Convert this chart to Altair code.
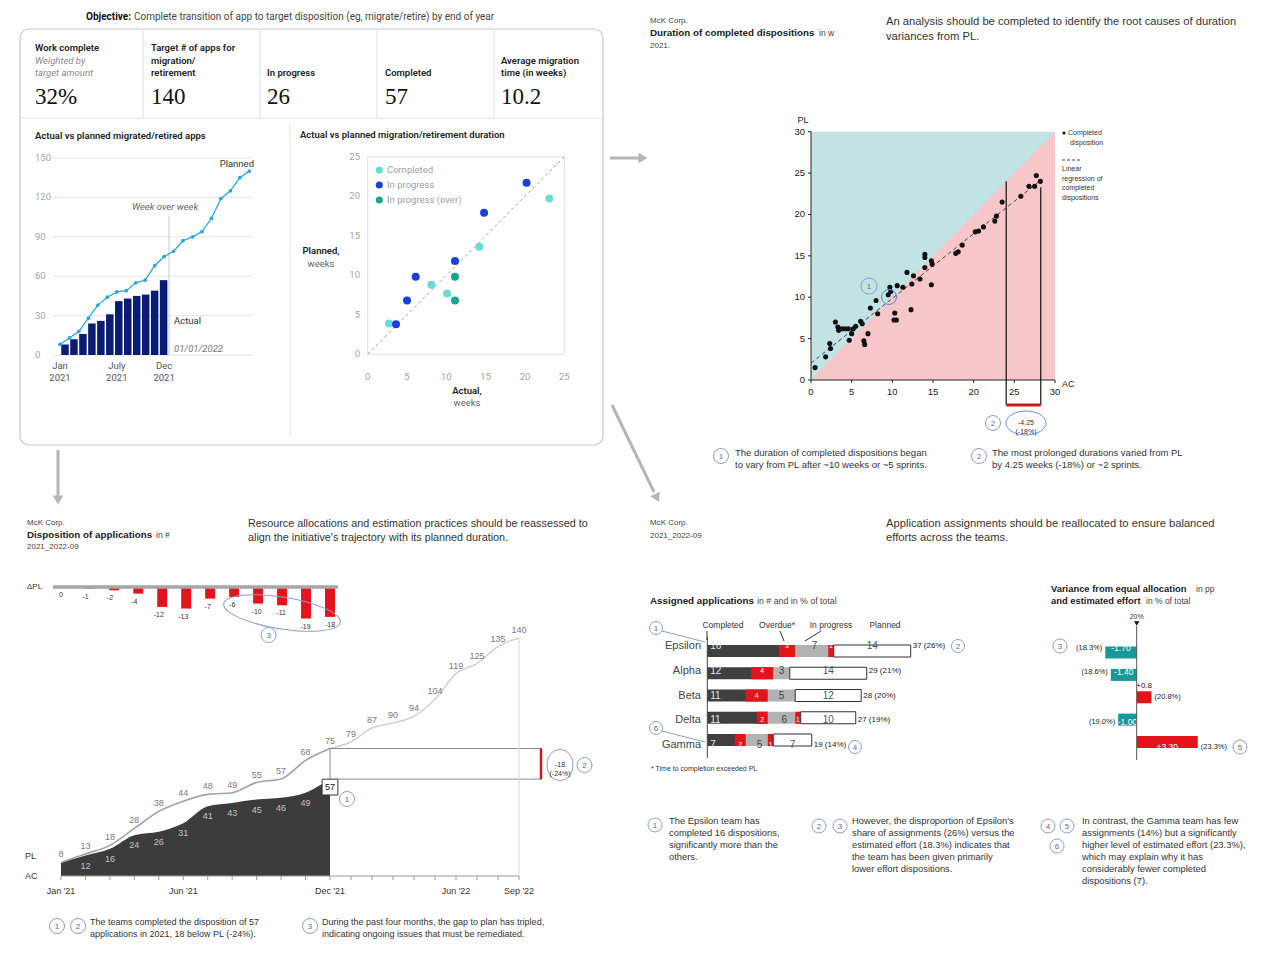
import math
import altair as alt
import pandas as pd

# ======================= DATA =======================
kpi_titles = [["Work complete"], ["Target # of apps for", "migration/", "retirement"],
              ["In progress"], ["Completed"], ["Average migration", "time (in weeks)"]]
kpi_subtitles = [["Weighted by", "target amount"], [], [], [], []]
kpi_values = ["32%", "140", "26", "57", "10.2"]

# cumulative dispositions, Jan '21 .. Sep '22
pl_cum = [8, 13, 18, 28, 38, 44, 48, 49, 55, 57, 68, 75, 79, 87, 90, 94, 104, 119, 125, 135, 140]
ac_cum = [8, 12, 16, 24, 26, 31, 41, 43, 45, 46, 49, 57]
period_idx = [0, 5, 11, 17, 20]
period_labels = ["Jan '21", "Jun '21", "Dec '21", "Jun '22", "Sep '22"]
mini_idx = [0, 6, 11]
mini_month = ["Jan", "July", "Dec"]
mini_year = ["2021", "2021", "2021"]
mini_ticks = [0, 30, 60, 90, 120, 150]

# planned vs actual migration duration (weeks)
dur_completed_ac = [2.7, 8.1, 10.1, 14.2, 23.1]
dur_completed_pl = [3.9, 8.8, 7.7, 13.6, 19.7]
dur_inprog_ac = [3.6, 5.0, 6.1, 11.1, 14.8, 20.2]
dur_inprog_pl = [3.8, 6.8, 9.8, 11.8, 17.9, 21.7]
dur_over_ac = [11.1, 11.1]
dur_over_pl = [9.8, 6.8]
dur_ticks = [0, 5, 10, 15, 20, 25]

# completed dispositions duration (weeks)
comp_ac = [0.5, 1.8, 2.3, 2.4, 3.0, 3.3, 3.4, 3.8, 4.2, 4.6, 5.2, 5.5, 4.7, 5.0, 6.1, 6.3, 6.5, 6.6, 7.0, 7.3,
           8.0, 8.2, 9.5, 9.7, 9.8, 10.3, 10.2, 10.5, 10.6, 11.3, 11.8, 12.3, 12.4, 12.6, 13.4, 14.0, 14.0, 14.0,
           14.8, 14.9, 14.8, 17.8, 18.1, 18.6, 20.2, 20.6, 21.2, 22.6, 22.8, 23.5, 25.8, 26.8, 27.5, 27.7, 28.2]
comp_pl = [1.5, 2.8, 4.4, 3.8, 7.0, 6.4, 6.0, 6.2, 6.2, 6.2, 6.2, 6.5, 4.8, 5.6, 7.1, 6.8, 4.75, 4.3, 5.6, 8.7,
           9.6, 8.0, 10.3, 11.2, 10.7, 8.1, 7.25, 7.25, 11.4, 11.2, 13.0, 8.5, 11.6, 12.6, 12.2, 13.6, 15.2, 14.8,
           14.4, 14.0, 11.5, 15.3, 15.5, 16.3, 17.9, 18.0, 18.5, 19.2, 19.8, 21.5, 22.2, 23.4, 23.4, 24.7, 24.0]
comp_ticks = [0, 5, 10, 15, 20, 25, 30]

# team assignments
teams = ["Epsilon", "Alpha", "Beta", "Delta", "Gamma"]
completed = [16, 12, 11, 11, 7]
overdue_completed = [3, 4, 4, 2, 2]
in_progress = [7, 3, 5, 6, 5]
overdue_in_progress = [1, 0, 0, 1, 1]
planned = [14, 14, 12, 10, 7]
share_pct = [26, 21, 20, 19, 14]
variance_pp = [-1.70, -1.40, 0.8, -1.00, 3.30]
variance_lab = ["-1.70", "-1.40", "+0.8", "-1.00", "+3.30"]
effort_pct = [18.3, 18.6, 20.8, 19.0, 23.3]

# ======================= STYLE =======================
LIB = "Liberation Sans, Arial, Helvetica, sans-serif"
CARD = "Roboto, Inter, Liberation Sans, sans-serif"
SERIF = "Liberation Serif, DejaVu Serif, Georgia, serif"
NAVY = "#0b1c74"
LBLUE = "#2ea6de"
C_COMP = "#63ddd6"
C_PROG = "#1b3fdc"
C_OVER = "#1aa38e"
CYAN_BG = "#c1e3e4"
PINK_BG = "#f7c6c8"
RED = "#e3151b"
TEAL = "#19979a"
CIRC = "#8d9ec6"
ARROW = "#b5b5b5"
HEAD = 11.2      # headline size
BOLD_H = 9.8     # bold chart-title size


def X(v):
    return v - 8


def Y(v):
    return v - 8


def xs(d0, d1, p0, p1):
    return alt.Scale(domain=[d0, d1], range=[X(p0), X(p1)], nice=False, zero=False)


def ys(d0, d1, p0, p1):
    return alt.Scale(domain=[d0, d1], range=[Y(p0), Y(p1)], nice=False, zero=False)


def XD(v, sc):
    return alt.XDatum(v, scale=sc, axis=None)


def YD(v, sc):
    return alt.YDatum(v, scale=sc, axis=None)


def QX(f, sc):
    return alt.X(f, type="quantitative", scale=sc, axis=None)


def QY(f, sc):
    return alt.Y(f, type="quantitative", scale=sc, axis=None)


layers = []
ONE = pd.DataFrame({"a": [0]})


def T(x, y, s, size=9, color="#333", weight="normal", align="left", font=LIB, italic=False, baseline="middle"):
    kw = dict(align=align, baseline=baseline, fontSize=size, color=color, fontWeight=weight, font=font,
              lineBreak="\n")
    if italic:
        kw["fontStyle"] = "italic"
    layers.append(alt.Chart(pd.DataFrame({"t": [s]})).mark_text(**kw).encode(
        x=alt.value(X(x)), y=alt.value(Y(y)), text="t:N"))


def R(x1, y1, x2, y2, color="#bbb", w=1, dash=None):
    kw = dict(color=color, strokeWidth=w)
    if dash:
        kw["strokeDash"] = dash
    layers.append(alt.Chart(ONE).mark_rule(**kw).encode(
        x=alt.value(X(x1)), y=alt.value(Y(y1)), x2=alt.value(X(x2)), y2=alt.value(Y(y2))))


def SYM(x, y, shape, size, color, filled=False, angle=0, sw=1):
    kw = dict(shape=shape, size=size, filled=filled, color=color, opacity=1, strokeWidth=sw)
    if angle:
        kw["angle"] = angle
    layers.append(alt.Chart(ONE).mark_point(**kw).encode(x=alt.value(X(x)), y=alt.value(Y(y))))


def NUM(x, y, label, d=14, size=8):
    SYM(x, y, "circle", d * d, CIRC)
    T(x, y + 0.5, label, size=size, color="#5d6d8e", align="center")


def ELL(x, y, w, h, angle=0, color=CIRC, sw=1):
    r = h / w
    path = f"M -1 0 A 1 {r:.3f} 0 1 0 1 0 A 1 {r:.3f} 0 1 0 -1 0 Z"
    SYM(x, y, path, w * w, color, angle=angle, sw=sw)


# ======================= ARROWS =======================
R(610, 158, 639, 158, ARROW, 3)
SYM(643, 158, "triangle-right", 110, ARROW, filled=True)
R(58, 450, 58, 496, ARROW, 3)
SYM(58, 500, "triangle-down", 110, ARROW, filled=True)
R(612, 405, 654, 492, ARROW, 3)
ang = math.degrees(math.atan2(92, 44))
SYM(657, 498, "triangle-right", 110, ARROW, filled=True, angle=ang)

# ======================= TOP-LEFT CARD =======================
T(131, 17, "Objective:", size=10, color="#111", weight="bold", align="right", font=CARD)
T(134, 17, "Complete transition of app to target disposition (eg, migrate/retire) by end of year",
  size=10, color="#444", font=CARD)
layers.append(alt.Chart(ONE).mark_rect(fill="white", stroke="#c8c8c8", strokeWidth=1.2, cornerRadius=9).encode(
    x=alt.value(X(20)), x2=alt.value(X(603)), y=alt.value(Y(29)), y2=alt.value(Y(445))))
for xv in [143, 260, 377, 494]:
    R(xv, 29, xv, 118, "#e2e2e2")
R(20, 118, 603, 118, "#e2e2e2")
R(290, 125, 290, 437, "#e2e2e2")

kx = [35, 151, 267, 385, 501]
for i in range(5):
    lines = kpi_titles[i] + kpi_subtitles[i]
    n = len(lines)
    for j, line in enumerate(lines):
        yy = 73 - 12.5 * (n - 1 - j)
        if j < len(kpi_titles[i]):
            T(kx[i], yy, line, size=9.5, color="#222", weight=600, font=CARD)
        else:
            T(kx[i], yy, line, size=9.5, color="#8a8a8a", italic=True, font=CARD)
    T(kx[i], 97, kpi_values[i], size=23, color="#111", font=SERIF)

# ---- left mini chart: actual vs planned migrated/retired apps
T(35, 136, "Actual vs planned migrated/retired apps", size=9.5, color="#222", weight=600, font=CARD)
tlx = xs(0, 20, 60, 249.3)
tly = ys(0, 150, 355, 158)
gdf = pd.DataFrame({"v": mini_ticks, "lab": [str(v) for v in mini_ticks]})
layers.append(alt.Chart(gdf).mark_rule(color="#e6e6e6", strokeWidth=1).encode(
    y=QY("v", tly), x=alt.value(X(53)), x2=alt.value(X(253))))
layers.append(alt.Chart(gdf).mark_text(align="left", baseline="middle", fontSize=9.5, color="#a3a3a3", font=CARD).encode(
    y=QY("v", tly), x=alt.value(X(35)), text="lab:N"))
df_ac = pd.DataFrame({"i": list(range(len(ac_cum))), "v": ac_cum})
df_pl = pd.DataFrame({"i": list(range(len(pl_cum))), "v": pl_cum})
layers.append(alt.Chart(df_ac).mark_bar(size=7.5, color=NAVY).encode(
    x=QX("i", tlx), y=QY("v", tly), y2=alt.datum(0)))
R(169, 216, 169, 355, "#c8c8c8")
layers.append(alt.Chart(df_pl).mark_line(color=LBLUE, strokeWidth=1.3).encode(x=QX("i", tlx), y=QY("v", tly)))
layers.append(alt.Chart(df_pl).mark_circle(color=LBLUE, size=14, opacity=1).encode(x=QX("i", tlx), y=QY("v", tly)))
mdf = pd.DataFrame({"i": mini_idx, "m": mini_month, "y": mini_year})
layers.append(alt.Chart(mdf).mark_text(align="center", fontSize=9.5, color="#555", font=CARD).encode(
    x=QX("i", tlx), y=alt.value(Y(366)), text="m:N"))
layers.append(alt.Chart(mdf).mark_text(align="center", fontSize=9.5, color="#555", font=CARD).encode(
    x=QX("i", tlx), y=alt.value(Y(378)), text="y:N"))
T(254, 164, "Planned", size=9.5, color="#333", align="right", font=CARD)
T(165, 207, "Week over week", size=9.5, color="#666", align="center", italic=True, font=CARD)
T(174, 321, "Actual", size=9.5, color="#333", font=CARD)
T(174, 349, "01/01/2022", size=9.5, color="#777", italic=True, font=CARD)

# ---- right mini chart: duration scatter
T(300, 135, "Actual vs planned migration/retirement duration", size=9.5, color="#222", weight=600, font=CARD)
sx = xs(0, 25, 367.7, 564.3)
sy = ys(0, 25, 354.3, 156.7)
layers.append(alt.Chart(ONE).mark_rect(fill="white", stroke="#e0e0e0", strokeWidth=1).encode(
    x=XD(0, sx), x2=alt.datum(25), y=YD(0, sy), y2=alt.datum(25)))
diag = pd.DataFrame({"x": [0, 25], "y": [0, 25]})
layers.append(alt.Chart(diag).mark_line(color="#a0a0a0", strokeDash=[3, 3], strokeWidth=1).encode(
    x=QX("x", sx), y=QY("y", sy)))
for acs, pls, col in [(dur_completed_ac, dur_completed_pl, C_COMP), (dur_inprog_ac, dur_inprog_pl, C_PROG),
                      (dur_over_ac, dur_over_pl, C_OVER)]:
    d = pd.DataFrame({"a": acs, "p": pls})
    layers.append(alt.Chart(d).mark_circle(color=col, size=64, opacity=1).encode(x=QX("a", sx), y=QY("p", sy)))
tdf = pd.DataFrame({"v": dur_ticks, "lab": [str(v) for v in dur_ticks]})
layers.append(alt.Chart(tdf).mark_text(align="right", fontSize=9.5, color="#a3a3a3", font=CARD).encode(
    y=QY("v", sy), x=alt.value(X(360)), text="lab:N"))
layers.append(alt.Chart(tdf).mark_text(align="center", fontSize=9.5, color="#a3a3a3", font=CARD).encode(
    x=QX("v", sx), y=alt.value(Y(377)), text="lab:N"))
for yy, lab, col in [(170, "Completed", C_COMP), (185, "In progress", C_PROG), (200, "In progress (over)", C_OVER)]:
    SYM(379.3, yy, "circle", 50, col, filled=True)
    T(387, yy, lab, size=9.5, color="#a0a0a0", font=CARD)
T(321, 251, "Planned,", size=9.5, color="#222", weight=600, align="center", font=CARD)
T(321, 264, "weeks", size=9.5, color="#666", align="center", font=CARD)
T(467, 391, "Actual,", size=9.5, color="#222", weight=600, align="center", font=CARD)
T(467, 403, "weeks", size=9.5, color="#666", align="center", font=CARD)

# ======================= TOP-RIGHT =======================
T(650, 21, "McK Corp.", size=8, color="#444")
T(650, 33, "Duration of completed dispositions", size=BOLD_H, color="#222", weight="bold")
T(819, 33, "in w", size=8.5, color="#444")
T(650, 46, "2021.", size=8, color="#444")
T(886, 22, "An analysis should be completed to identify the root causes of duration", size=HEAD, color="#333")
T(886, 37, "variances from PL.", size=HEAD, color="#333")

trx = xs(0, 30, 811, 1055)
tr_y = ys(0, 30, 380, 131.7)
layers.append(alt.Chart(ONE).mark_rect(color=CYAN_BG).encode(
    x=XD(0, trx), x2=alt.datum(30), y=YD(0, tr_y), y2=alt.datum(30)))
tri = pd.DataFrame({"x": [0, 30], "y": [0, 30]})
layers.append(alt.Chart(tri).mark_area(color=PINK_BG, opacity=1).encode(x=QX("x", trx), y=QY("y", tr_y), y2=alt.datum(0)))
cdf = pd.DataFrame({"ac": comp_ac, "pl": comp_pl})
layers.append(alt.Chart(cdf).transform_regression("ac", "pl", extent=[0, 28.3]).mark_line(
    color="#444", strokeDash=[4, 3], strokeWidth=1).encode(x=QX("ac", trx), y=QY("pl", tr_y)))
layers.append(alt.Chart(cdf).mark_circle(color="#111", size=26, opacity=1).encode(x=QX("ac", trx), y=QY("pl", tr_y)))
# axes
layers.append(alt.Chart(ONE).mark_rule(color="#222", strokeWidth=1).encode(
    x=XD(0, trx), y=YD(0, tr_y), y2=alt.datum(30)))
layers.append(alt.Chart(ONE).mark_rule(color="#222", strokeWidth=1).encode(
    y=YD(0, tr_y), x=XD(0, trx), x2=alt.datum(30)))
ctd = pd.DataFrame({"v": comp_ticks, "lab": [str(v) for v in comp_ticks]})
layers.append(alt.Chart(ctd).mark_rule(color="#222", strokeWidth=1).encode(
    y=QY("v", tr_y), x=alt.value(X(808)), x2=alt.value(X(811))))
layers.append(alt.Chart(ctd).mark_rule(color="#222", strokeWidth=1).encode(
    x=QX("v", trx), y=alt.value(Y(380)), y2=alt.value(Y(383))))
layers.append(alt.Chart(ctd).mark_text(align="right", fontSize=9.5, color="#222").encode(
    y=QY("v", tr_y), x=alt.value(X(805)), text="lab:N"))
layers.append(alt.Chart(ctd).mark_text(align="center", fontSize=9.5, color="#222").encode(
    x=QX("v", trx), y=alt.value(Y(392)), text="lab:N"))
T(803, 120, "PL", size=9, color="#222", align="center")
T(1062, 384, "AC", size=9, color="#222")
# variance marker lines
layers.append(alt.Chart(ONE).mark_rule(color="#111", strokeWidth=1.2).encode(
    x=XD(24, trx), y=YD(24, tr_y), y2=alt.value(Y(405))))
layers.append(alt.Chart(ONE).mark_rule(color="#111", strokeWidth=1.2).encode(
    x=XD(28.25, trx), y=YD(23.3, tr_y), y2=alt.value(Y(405))))
layers.append(alt.Chart(ONE).mark_rule(color="#d0161b", strokeWidth=3).encode(
    x=XD(24, trx), x2=alt.datum(28.25), y=alt.value(Y(405))))
ELL(1026, 423, 40, 24, color="#6f8fcf")
T(1026, 423, "-4.25\n(-18%)", size=7, color="#333", align="center")
NUM(993, 423, "2", d=15)
NUM(869, 286, "1", d=16)
SYM(889, 297, "circle", 15 * 15, "#5b86d6")
# legend
SYM(1064, 133, "circle", 10, "#111", filled=True)
T(1068, 133, "Completed", size=7, color="#333")
T(1070, 143, "disposition", size=7, color="#333")
R(1062, 160, 1081, 160, "#444", 1, [3, 2])
for k, s in enumerate(["Linear", "regression of", "completed", "dispositions"]):
    T(1062, 169 + 9.7 * k, s, size=7, color="#333")
# notes
NUM(721, 456, "1", d=15)
T(735, 453, "The duration of completed dispositions began", size=9.5, color="#333")
T(735, 465, "to vary from PL after ~10 weeks or ~5 sprints.", size=9.5, color="#333")
NUM(979, 456, "2", d=15)
T(992, 453, "The most prolonged durations varied from PL", size=9.5, color="#333")
T(992, 465, "by 4.25 weeks (-18%) or ~2 sprints.", size=9.5, color="#333")

# ======================= BOTTOM-LEFT =======================
T(27, 523, "McK Corp.", size=8, color="#444")
T(27, 535, "Disposition  of applications", size=BOLD_H, color="#222", weight="bold")
T(156, 535, "in #", size=8.5, color="#444")
T(27, 547, "2021_2022-09", size=8, color="#444")
T(248, 524, "Resource allocations and estimation practices should be reassessed to", size=10.8, color="#333")
T(248, 538, "align the initiative's trajectory with its planned duration.", size=10.8, color="#333")

blx = alt.Scale(domain=[0, 11, 20], range=[X(61), X(330), X(519)], nice=False, zero=False)
bly = ys(0, 140, 876, 638)
dly = ys(-20, 0, 587 + 33.2, 587)

ddf = pd.DataFrame({"i": list(range(len(ac_cum))), "d": [a - p for a, p in zip(ac_cum, pl_cum)]})
ddf["lab"] = ddf["d"].astype(str)
layers.append(alt.Chart(ddf).mark_bar(size=10, color=RED).encode(x=QX("i", blx), y=QY("d", dly), y2=alt.datum(0)))
layers.append(alt.Chart(ddf).mark_text(align="center", baseline="top", dy=4, fontSize=7, color="#333").encode(
    x=QX("i", blx), y=QY("d", dly), text="lab:N"))
R(53, 587, 338, 587, "#a6a6a6", 3.5)
T(27, 587, "ΔPL", size=8, color="#333")
ELL(282, 613, 118, 32, angle=9)
NUM(268.6, 635, "3", d=15)

# area / lines
layers.append(alt.Chart(df_ac).mark_area(color="#3c3c3c", interpolate="monotone", opacity=1).encode(
    x=QX("i", blx), y=QY("v", bly), y2=alt.datum(0)))
layers.append(alt.Chart(df_pl[df_pl["i"] <= 11]).mark_line(color="#a2a2a2", strokeWidth=1.6, interpolate="monotone").encode(
    x=QX("i", blx), y=QY("v", bly)))
layers.append(alt.Chart(df_pl[df_pl["i"] >= 11]).mark_line(color="#d2d2d2", strokeWidth=1.6, interpolate="monotone").encode(
    x=QX("i", blx), y=QY("v", bly)))
df_pl["lab"] = df_pl["v"].astype(str)
df_ac["lab"] = df_ac["v"].astype(str)
layers.append(alt.Chart(df_pl).mark_text(align="center", baseline="middle", dy=-8, fontSize=9, color="#7a7a7a").encode(
    x=QX("i", blx), y=QY("v", bly), text="lab:N"))
layers.append(alt.Chart(df_ac[(df_ac["i"] >= 1) & (df_ac["i"] <= 10)]).mark_text(
    align="center", baseline="middle", dy=10, fontSize=9, color="#c4c4c4").encode(
    x=QX("i", blx), y=QY("v", bly), text="lab:N"))
last = df_ac[df_ac["i"] == 11]
layers.append(alt.Chart(last).mark_point(shape="square", size=250, filled=True, fill="white", stroke="#333",
                                         strokeWidth=1, opacity=1, yOffset=8).encode(x=QX("i", blx), y=QY("v", bly)))
layers.append(alt.Chart(last).mark_text(align="center", baseline="middle", dy=8, fontSize=9, color="#111").encode(
    x=QX("i", blx), y=QY("v", bly), text="lab:N"))
NUM(347, 799, "1", d=15)
# gap box
layers.append(alt.Chart(ONE).mark_rule(color="#8a8a8a", strokeWidth=1).encode(
    x=XD(11, blx), x2=alt.value(X(542)), y=YD(75, bly)))
layers.append(alt.Chart(ONE).mark_rule(color="#8a8a8a", strokeWidth=1).encode(
    x=XD(11, blx), x2=alt.value(X(542)), y=YD(57, bly)))
layers.append(alt.Chart(ONE).mark_rule(color="#8a8a8a", strokeWidth=1).encode(
    x=XD(11, blx), y=YD(57, bly), y2=alt.datum(75)))
layers.append(alt.Chart(ONE).mark_rule(color="#d0161b", strokeWidth=2.5).encode(
    x=alt.value(X(541)), y=YD(57, bly), y2=alt.datum(75)))
ELL(560, 765, 26, 31)
T(560, 765, "-18\n(-24%)", size=7, color="#333", align="center")
NUM(584.5, 765, "2", d=15)
# vertical edges and axis
layers.append(alt.Chart(ONE).mark_rule(color="#d8d8d8", strokeWidth=1).encode(
    x=XD(20, blx), y=YD(0, bly), y2=alt.datum(140)))
layers.append(alt.Chart(ONE).mark_rule(color="#9a9a9a", strokeWidth=1).encode(
    y=YD(0, bly), x=XD(0, blx), x2=alt.datum(20)))
tick_df = pd.DataFrame({"i": list(range(len(pl_cum)))})
layers.append(alt.Chart(tick_df).mark_rule(color="#9a9a9a", strokeWidth=1).encode(
    x=QX("i", blx), y=alt.value(Y(876)), y2=alt.value(Y(880))))
pdf = pd.DataFrame({"i": period_idx, "lab": period_labels})
layers.append(alt.Chart(pdf).mark_text(align="center", fontSize=9, color="#333").encode(
    x=QX("i", blx), y=alt.value(Y(891)), text="lab:N"))
T(25, 856, "PL", size=9, color="#333")
T(25, 876, "AC", size=9, color="#333")
# notes
NUM(57, 926, "1", d=15)
NUM(78, 926, "2", d=15)
T(90, 922, "The teams completed the disposition of 57", size=9, color="#333")
T(90, 934, "applications in 2021, 18 below PL (-24%).", size=9, color="#333")
NUM(310, 926, "3", d=15)
T(322, 922, "During the past four months, the gap to plan has tripled,", size=9, color="#333")
T(322, 934, "indicating ongoing issues that must be remediated.", size=9, color="#333")

# ======================= BOTTOM-RIGHT =======================
T(650, 523, "McK Corp.", size=8, color="#444")
T(650, 536, "2021_2022-09", size=8, color="#444")
T(886, 524, "Application assignments should be reallocated to ensure balanced", size=HEAD, color="#333")
T(886, 538, "efforts across the teams.", size=HEAD, color="#333")
T(650, 601, "Assigned  applications", size=BOLD_H, color="#222", weight="bold")
T(757, 601, "in # and in % of total", size=8.8, color="#444")

bx = xs(0, 37, 707.3, 910.7)
by = ys(0, 4, 646, 745)
rows = []
for i, t in enumerate(teams):
    c, oc, ip, oi, p = completed[i], overdue_completed[i], in_progress[i], overdue_in_progress[i], planned[i]
    tot = c + ip + p
    rows.append(dict(r=i, kind="completed", a=0, b=c, lab=str(c)))
    rows.append(dict(r=i, kind="over_c", a=c - oc, b=c, lab=str(oc)))
    rows.append(dict(r=i, kind="inprog", a=c, b=c + ip, lab=str(ip)))
    if oi > 0:
        rows.append(dict(r=i, kind="over_ip", a=c + ip - oi, b=c + ip, lab=str(oi)))
    rows.append(dict(r=i, kind="planned", a=c + ip, b=tot, lab=str(p)))
seg = pd.DataFrame(rows)
seg["mid"] = (seg["a"] + seg["b"]) / 2
styles = {"completed": dict(color="#404040"), "over_c": dict(color=RED), "inprog": dict(color="#b2b2b2"),
          "over_ip": dict(color=RED), "planned": dict(fill="white", stroke="#333", strokeWidth=1)}
for kind in ["completed", "over_c", "inprog", "over_ip", "planned"]:
    sub = seg[seg["kind"] == kind]
    layers.append(alt.Chart(sub).mark_bar(size=12, opacity=1, **styles[kind]).encode(
        x=QX("a", bx), x2="b:Q", y=QY("r", by)))
layers.append(alt.Chart(seg[seg["kind"] == "completed"]).mark_text(align="left", dx=3, fontSize=10, color="#e6e6e6").encode(
    x=QX("a", bx), y=QY("r", by), text="lab:N"))
layers.append(alt.Chart(seg[seg["kind"].isin(["over_c", "over_ip"])]).mark_text(align="center", fontSize=7, color="white").encode(
    x=QX("mid", bx), y=QY("r", by), text="lab:N"))
layers.append(alt.Chart(seg[seg["kind"] == "inprog"]).mark_text(align="center", fontSize=10, color="#444").encode(
    x=QX("mid", bx), y=QY("r", by), text="lab:N"))
layers.append(alt.Chart(seg[seg["kind"] == "planned"]).mark_text(align="center", fontSize=10, color="#555").encode(
    x=QX("mid", bx), y=QY("r", by), text="lab:N"))
tdf2 = pd.DataFrame({"r": list(range(5)), "t": teams,
                     "tot": [completed[i] + in_progress[i] + planned[i] for i in range(5)]})
tdf2["lab"] = [f"{tdf2['tot'][i]} ({share_pct[i]}%)" for i in range(5)]
layers.append(alt.Chart(tdf2).mark_text(align="left", dx=2, fontSize=8, color="#222").encode(
    x=QX("tot", bx), y=QY("r", by), text="lab:N"))
layers.append(alt.Chart(tdf2).mark_text(align="right", fontSize=11, color="#444").encode(
    x=alt.value(X(701)), y=QY("r", by), text="t:N"))
R(707.3, 637, 707.3, 758, "#444", 1)
T(723, 625, "Completed", size=8.5, color="#333", align="center")
T(777, 625, "Overdue*", size=8.5, color="#333", align="center")
T(831, 625, "In progress", size=8.5, color="#333", align="center")
T(885, 625, "Planned", size=8.5, color="#333", align="center")
R(707, 631, 707, 640, "#333", 1)
R(780, 631, 784, 641, "#333", 1)
R(821, 631, 805, 641, "#333", 1)
NUM(656, 628, "1", d=13)
R(662, 631, 705, 642, CIRC, 1)
NUM(958, 646, "2", d=13)
NUM(656, 728, "6", d=13)
R(662, 731, 705, 742, CIRC, 1)
NUM(855, 747, "4", d=13)
T(651, 769, "* Time to completion  exceeded PL", size=7, color="#333")

# variance chart
T(1051, 589, "Variance from equal allocation", size=9.4, color="#222", weight="bold")
T(1196, 589, "in pp", size=8.5, color="#444")
T(1051, 601, "and estimated effort", size=9.4, color="#222", weight="bold")
T(1146, 601, "in % of total", size=8.5, color="#444")
vx = xs(0, 1, 1136.7, 1155.2)
vy = ys(0, 4, 647.5, 747)
vdf = pd.DataFrame({"r": list(range(5)), "v": variance_pp, "lab": variance_lab,
                    "eff": [f"({e:.1f}%)" for e in effort_pct]})
vdf["mid"] = vdf["v"] / 2
neg = vdf[vdf["v"] < 0]
pos = vdf[vdf["v"] > 0]
layers.append(alt.Chart(neg).mark_bar(size=12, color=TEAL, opacity=1).encode(x=QX("v", vx), x2=alt.datum(0), y=QY("r", vy)))
layers.append(alt.Chart(pos).mark_bar(size=12, color=RED, opacity=1).encode(x=QX("v", vx), x2=alt.datum(0), y=QY("r", vy)))
layers.append(alt.Chart(vdf[vdf["v"].abs() >= 1]).mark_text(align="center", fontSize=8.5, color="white").encode(
    x=QX("mid", vx), y=QY("r", vy), text="lab:N"))
layers.append(alt.Chart(vdf[vdf["v"].abs() < 1]).mark_text(align="center", dy=-11, fontSize=8, color="#222").encode(
    x=QX("mid", vx), y=QY("r", vy), text="lab:N"))
layers.append(alt.Chart(neg).mark_text(align="right", dx=-3, fontSize=7.5, color="#222").encode(
    x=QX("v", vx), y=QY("r", vy), text="eff:N"))
layers.append(alt.Chart(pos).mark_text(align="left", dx=3, fontSize=7.5, color="#222").encode(
    x=QX("v", vx), y=QY("r", vy), text="eff:N"))
layers.append(alt.Chart(ONE).mark_rule(color="#555", strokeWidth=1).encode(
    x=XD(0, vx), y=alt.value(Y(626)), y2=alt.value(Y(760))))
T(1136.7, 617, "20%", size=7, color="#333", align="center")
SYM(1136.7, 623.5, "triangle-down", 30, "#111", filled=True)
NUM(1060, 646, "3", d=14)
NUM(1240, 747, "5", d=14)

# notes
NUM(655, 825, "1", d=14)
for k, s in enumerate(["The Epsilon team has", "completed 16 dispositions,", "significantly more than the", "others."]):
    T(669, 821 + 12 * k, s, size=9.4, color="#333")
NUM(819, 826, "2", d=14)
NUM(840, 826, "3", d=14)
for k, s in enumerate(["However,  the disproportion of Epsilon's", "share of assignments (26%) versus the",
                       "estimated effort (18.3%) indicates that", "the team has been given primarily",
                       "lower effort  dispositions."]):
    T(852, 821 + 12 * k, s, size=9.4, color="#333")
NUM(1048, 826, "4", d=14)
NUM(1067, 826, "5", d=14)
NUM(1057, 846, "6", d=14)
for k, s in enumerate(["In contrast, the Gamma team has few", "assignments (14%) but a significantly",
                       "higher level  of estimated effort (23.3%),", "which may explain why it has",
                       "considerably fewer completed", "dispositions (7)."]):
    T(1082, 821 + 12 * k, s, size=9.4, color="#333")

chart = alt.layer(*layers).properties(
    width=1264, height=944, padding=0, autosize=alt.AutoSizeParams(type="none")
).resolve_scale(x="independent", y="independent").configure_view(stroke=None)

chart.save("out.html", embed_options={"renderer": "svg", "actions": False})
